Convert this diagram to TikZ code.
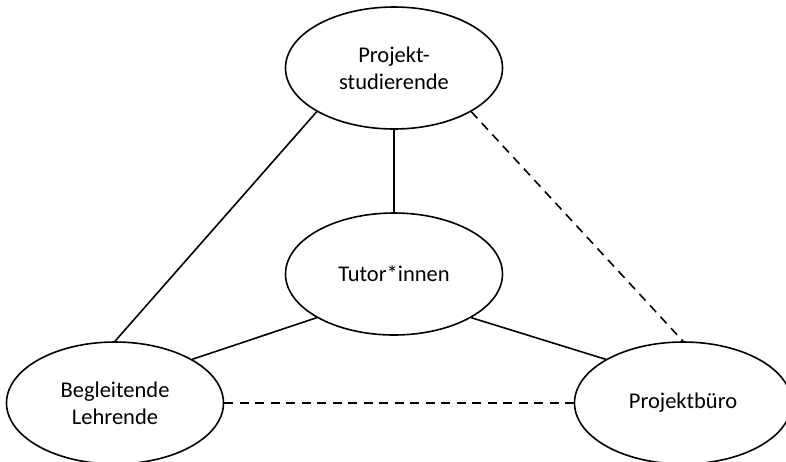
\documentclass[tikz,border=0pt]{standalone}
\usepackage{fontspec}
\setmainfont{Carlito}
\usetikzlibrary{shapes.geometric}
\begin{document}
\begin{tikzpicture}[x=1pt,y=-1pt,
  role/.style={ellipse,draw,line width=1.6pt,minimum width=217pt,minimum height=122pt,inner sep=0pt,align=center,font=\fontsize{22.5}{27}\selectfont},
  link/.style={line width=1.6pt},
  dlink/.style={line width=1.6pt,dash pattern=on 9pt off 6.5pt}]
\useasboundingbox (0,0) rectangle (786,461);
\node[role] (ps) at (394,68) {Projekt-\\studierende};
\node[role] (tu) at (394,274) {Tutor*innen};
\node[role] (bl) at (115,403) {Begleitende\\Lehrende};
\node[role] (pb) at (683,403) {Projektbüro};
\draw[link] (ps.south) -- (tu.north);
\draw[link] (ps.south west) -- (bl.north);
\draw[dlink] (ps.south east) -- (pb.north);
\draw[link] (tu.south west) -- (bl.north east);
\draw[link] (tu.south east) -- (pb.north west);
\draw[dlink] (bl.east) -- (pb.west);
\end{tikzpicture}
\end{document}
